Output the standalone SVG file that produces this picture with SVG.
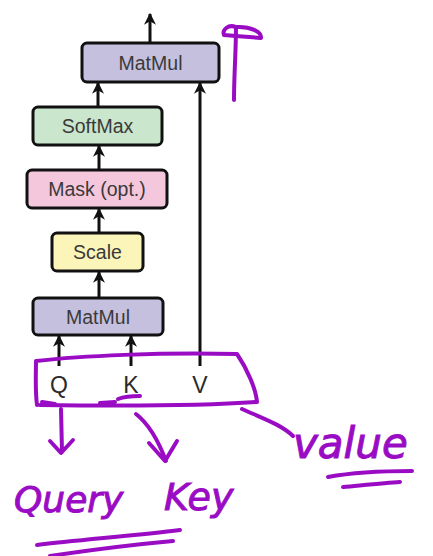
<svg xmlns="http://www.w3.org/2000/svg" width="433" height="556" viewBox="0 0 433 556">
  <style>
    .box { stroke: #111; stroke-width: 3; }
    .lbl { font-family: "Liberation Sans", Arial, sans-serif; font-size: 19.5px; fill: #3a3a3a; text-anchor: middle; }
    .io { font-family: "Liberation Sans", Arial, sans-serif; font-size: 23px; fill: #2a2a2a; text-anchor: middle; }
    .wire { stroke: #111; stroke-width: 3; fill: none; marker-end: url(#head); }
    .ink { stroke: #9a0cc4; stroke-width: 4; fill: none; stroke-linecap: round; stroke-linejoin: round; }
    .hand { font-family: "DejaVu Sans", sans-serif; fill: #9a0cc4; stroke: #9a0cc4; stroke-width: 1; font-style: italic; }
  </style>
  <defs>
    <marker id="head" viewBox="0 0 10 10" refX="9" refY="5" markerWidth="4" markerHeight="4" orient="auto" markerUnits="strokeWidth">
      <path d="M0,0 L10,5 L0,10 L3,5 Z" fill="#111"/>
    </marker>
  </defs>
  <rect width="433" height="556" fill="#fff"/>

  <g id="connectors">
    <line class="wire" x1="150" y1="43" x2="150" y2="14"/>
    <line class="wire" x1="98" y1="107" x2="98" y2="83"/>
    <line class="wire" x1="99" y1="170" x2="99" y2="146"/>
    <line class="wire" x1="99" y1="233" x2="99" y2="209"/>
    <line class="wire" x1="99" y1="298" x2="99" y2="272"/>
    <line class="wire" x1="59" y1="366" x2="59" y2="336"/>
    <line class="wire" x1="131" y1="366" x2="131" y2="336"/>
    <line class="wire" x1="200" y1="366" x2="200" y2="83"/>
  </g>

  <g id="matmul-top">
    <rect class="box" x="82" y="43" width="137" height="39" rx="5" fill="#c6c0df"/>
    <text class="lbl" x="150.5" y="69.5">MatMul</text>
  </g>
  <g id="softmax">
    <rect class="box" x="33" y="107" width="129" height="38" rx="5" fill="#cae6cd"/>
    <text class="lbl" x="97.5" y="133">SoftMax</text>
  </g>
  <g id="mask">
    <rect class="box" x="27" y="170" width="140" height="38" rx="5" fill="#f5c7dd"/>
    <text class="lbl" x="97" y="196">Mask (opt.)</text>
  </g>
  <g id="scale">
    <rect class="box" x="52" y="233" width="91" height="38" rx="5" fill="#fbf5ba"/>
    <text class="lbl" x="97.5" y="259">Scale</text>
  </g>
  <g id="matmul-bottom">
    <rect class="box" x="33" y="298" width="130" height="37" rx="5" fill="#c6c0df"/>
    <text class="lbl" x="98" y="324">MatMul</text>
  </g>

  <g id="inputs">
    <text class="io" x="59" y="393">Q</text>
    <text class="io" x="131" y="393">K</text>
    <text class="io" x="200" y="393">V</text>
  </g>

  <g id="annotations">
    <!-- mark beside the output -->
    <path class="ink" d="M236,27 C236,50 234,75 234,100"/>
    <path class="ink" d="M236,27 C228,24 222,30 224,35 C236,36 250,37 261,38 C262,32 250,26 236,27"/>
    <!-- loop round the inputs -->
    <path class="ink" d="M37,405 C35,390 36,372 36,361 C80,356 160,352 237,354 C248,370 256,390 257,402 C200,406 110,406 40,405"/>
    <path class="ink" d="M42,402 L55,404 M100,403 L115,402 M118,399 C126,396 134,396 140,396"/>
    <!-- pointers to the words -->
    <path class="ink" d="M61,409 L62,452 M50,441 L61,453 L73,440"/>
    <path class="ink" d="M136,414 C150,425 160,445 166,461 M149,443 L165,461 L177,441"/>
    <path class="ink" d="M242,409 C262,418 282,425 293,436"/>
    <!-- handwritten words -->
    <text class="hand" x="14" y="512" font-size="36">Query</text>
    <text class="hand" x="164" y="510" font-size="38">Key</text>
    <text class="hand" x="293" y="458" font-size="42">value</text>
    <!-- underlines -->
    <path class="ink" d="M37,545 C80,540 140,535 180,530"/>
    <path class="ink" d="M50,556 C90,550 140,544 173,541"/>
    <path class="ink" d="M328,477 C355,472 390,471 412,471"/>
    <path class="ink" d="M343,487 C365,485 385,483 400,482"/>
  </g>
</svg>
